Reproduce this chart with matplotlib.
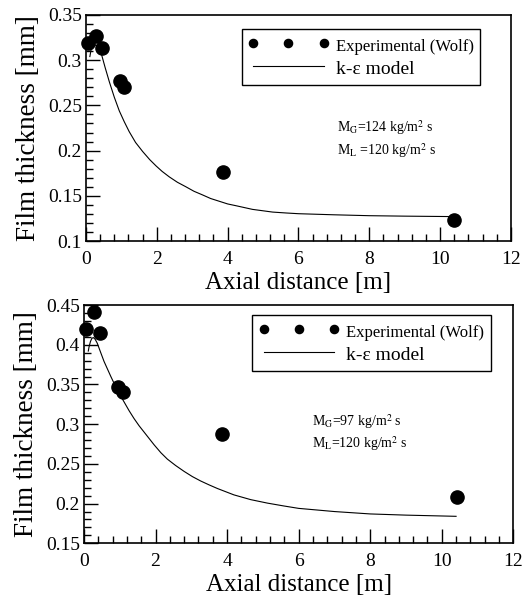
import numpy as np
import matplotlib.pyplot as plt
from matplotlib.ticker import MultipleLocator, FuncFormatter

plt.rcParams['font.family'] = ['Liberation Serif', 'DejaVu Serif']
plt.rcParams['mathtext.fontset'] = 'stix'

# panel 1 (M_G = 124)
exp1_x = [0.05, 0.27, 0.46, 0.96, 1.07, 3.86, 10.4]
exp1_y = [0.319, 0.327, 0.314, 0.277, 0.270, 0.176, 0.123]
mod1_x = [0.11, 0.15, 0.19, 0.26, 0.33, 0.42, 0.54, 0.66, 0.80, 0.94, 1.08, 1.22, 1.40, 1.60, 1.80, 1.98, 2.15,
          2.35, 2.58, 2.82, 3.05, 3.29, 3.52, 3.76, 4.00, 4.24, 4.70, 5.27, 5.65, 6.00, 7.00, 8.00, 9.00, 10.4]
mod1_y = [0.304, 0.313, 0.319, 0.317, 0.314, 0.309, 0.292, 0.276, 0.259, 0.244, 0.232, 0.221, 0.209, 0.199, 0.190,
          0.183, 0.177, 0.171, 0.165, 0.160, 0.155, 0.151, 0.147, 0.144, 0.141, 0.139, 0.135, 0.132, 0.131, 0.1302,
          0.129, 0.128, 0.1275, 0.127]

# panel 2 (M_G = 97)
exp2_x = [0.06, 0.28, 0.45, 0.96, 1.10, 3.87, 10.42]
exp2_y = [0.420, 0.441, 0.415, 0.347, 0.341, 0.288, 0.208]
mod2_x = [0.12, 0.14, 0.18, 0.22, 0.26, 0.31, 0.37, 0.46, 0.56, 0.66, 0.75, 0.93, 1.12, 1.26, 1.40, 1.54, 1.68,
          1.82, 1.96, 2.15, 2.33, 2.56, 2.80, 3.03, 3.26, 3.50, 3.73, 3.96, 4.19, 4.66, 5.13, 5.59, 6.00, 7.00, 8.00,
          9.00, 10.4]
mod2_y = [0.392, 0.397, 0.404, 0.408, 0.409, 0.407, 0.402, 0.391, 0.379, 0.369, 0.360, 0.343, 0.328, 0.317, 0.307,
          0.298, 0.290, 0.282, 0.274, 0.264, 0.256, 0.248, 0.2405, 0.234, 0.2285, 0.2235, 0.219, 0.215, 0.211, 0.205,
          0.2006, 0.197, 0.194, 0.190, 0.187, 0.1855, 0.184]

panels = [
    dict(pos=[0.1644, 0.5963, 0.8126, 0.3786], ex=exp1_x, ey=exp1_y, mx=mod1_x, my=mod1_y,
         ylim=(0.1, 0.35), leg=(0.366, 0.937), txt=(0.59, 0.50, 0.40),
         l1=r'M$_{\mathrm{G}}$=124 kg/m$^{2}$ s', l2=r'M$_{\mathrm{L}}$ =120 kg/m$^{2}$ s'),
    dict(pos=[0.1606, 0.0899, 0.8209, 0.3992], ex=exp2_x, ey=exp2_y, mx=mod2_x, my=mod2_y,
         ylim=(0.15, 0.45), leg=(0.392, 0.958), txt=(0.531, 0.51, 0.42),
         l1=r'M$_{\mathrm{G}}$=97 kg/m$^{2}$ s', l2=r'M$_{\mathrm{L}}$=120 kg/m$^{2}$ s'),
]

fig = plt.figure(figsize=(5.23, 5.97), dpi=100)

fmt = FuncFormatter(lambda v, p: ('%g' % round(v, 4)))

for p in panels:
    ax = fig.add_axes(p['pos'])
    ax.plot(p['ex'], p['ey'], 'o', color='black', markersize=9.5, clip_on=False, zorder=3,
            label='Experimental (Wolf)')
    ax.plot(p['mx'], p['my'], '-', color='black', linewidth=0.8, label='k-ε model')
    ax.set_xlim(0, 12)
    ax.set_ylim(*p['ylim'])
    ax.xaxis.set_major_locator(MultipleLocator(2))
    ax.xaxis.set_minor_locator(MultipleLocator(0.4))
    ax.yaxis.set_major_locator(MultipleLocator(0.05))
    ax.yaxis.set_minor_locator(MultipleLocator(0.01))
    ax.xaxis.set_major_formatter(fmt)
    ax.yaxis.set_major_formatter(fmt)
    ax.tick_params(which='both', direction='in', top=False, right=False, labelsize=14, width=1)
    ax.tick_params(which='major', length=10, pad=7)
    ax.tick_params(which='minor', length=5)
    ax.tick_params(axis='y', which='major', pad=3)
    for s in ax.spines.values():
        s.set_linewidth(1.2)
    ax.set_xlabel('Axial distance [m]', fontsize=18, labelpad=3)
    ax.set_ylabel('Film thickness [mm]', fontsize=19.5, labelpad=5)

    leg = ax.legend(loc='upper left', bbox_to_anchor=p['leg'], borderaxespad=0,
                    numpoints=3, markerscale=0.62, fancybox=False, edgecolor='black',
                    framealpha=1, fontsize=12, handlelength=4.85, handletextpad=0.42,
                    borderpad=0.38, labelspacing=0.2, handleheight=1.45)
    leg.get_frame().set_linewidth(1.0)
    leg.get_texts()[1].set_fontsize(14)

    tx, ty1, ty2 = p['txt']
    ax.text(tx, ty1, p['l1'], transform=ax.transAxes, fontsize=10, va='center')
    ax.text(tx, ty2, p['l2'], transform=ax.transAxes, fontsize=10, va='center')

fig.savefig('out.png', dpi=100)
